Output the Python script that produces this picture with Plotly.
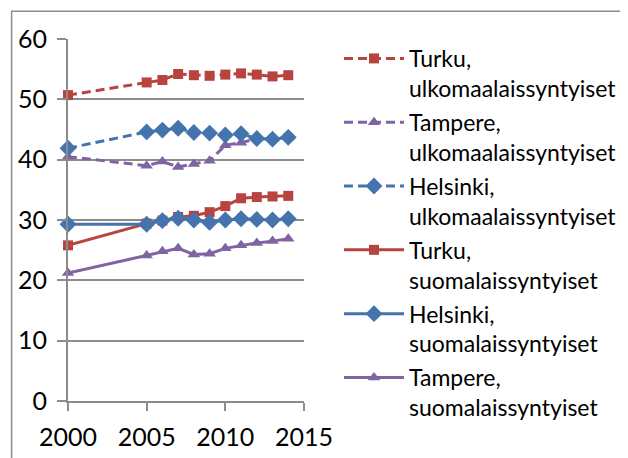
"""
Kaupunkien osuudet syntyperän mukaan (Turku, Tampere, Helsinki), 2000-2014.
"""
import plotly.graph_objects as go

years = [2000, 2005, 2006, 2007, 2008, 2009, 2010, 2011, 2012, 2013, 2014]

turku_ulko = [50.7, 52.8, 53.2, 54.2, 54.0, 53.9, 54.1, 54.3, 54.1, 53.8, 54.0]
tampere_ulko = [40.5, 39.0, 39.7, 38.8, 39.3, 39.8, 42.4, 42.8, 43.5, 43.7, 43.8]
helsinki_ulko = [41.9, 44.6, 44.9, 45.2, 44.5, 44.4, 44.1, 44.3, 43.5, 43.4, 43.7]
turku_suomi = [25.8, 29.4, 29.9, 30.5, 30.7, 31.3, 32.3, 33.6, 33.8, 33.9, 34.0]
helsinki_suomi = [29.3, 29.3, 29.9, 30.3, 30.0, 29.6, 30.0, 30.2, 30.1, 30.0, 30.2]
tampere_suomi = [21.2, 24.1, 24.8, 25.3, 24.3, 24.4, 25.3, 25.8, 26.2, 26.5, 26.9]

x_ticks = [2000, 2005, 2010, 2015]

red = "#B8443F"
blue = "#4473AE"
purple = "#8064A2"
grid = "#8C8C8C"
font_family = "Lato, Roboto, sans-serif"

series = [
    ("Turku,<br>ulkomaalaissyntyiset", turku_ulko, red, "square", 10, "9px,5px"),
    ("Tampere,<br>ulkomaalaissyntyiset", tampere_ulko, purple, "triangle-up", 11, "9px,5px"),
    ("Helsinki,<br>ulkomaalaissyntyiset", helsinki_ulko, blue, "diamond", 13, "9px,5px"),
    ("Turku,<br>suomalaissyntyiset", turku_suomi, red, "square", 10, "solid"),
    ("Helsinki,<br>suomalaissyntyiset", helsinki_suomi, blue, "diamond", 13, "solid"),
    ("Tampere,<br>suomalaissyntyiset", tampere_suomi, purple, "triangle-up", 11, "solid"),
]

fig = go.Figure()
for name, vals, color, symbol, size, dash in series:
    fig.add_trace(go.Scatter(
        x=years,
        y=vals,
        mode="lines+markers",
        name=name,
        legendgroup=name,
        line=dict(color=color, width=3, dash=dash),
        marker=dict(symbol=symbol, size=size, color=color),
        cliponaxis=False,
    ))

# sivun oletusmarginaali (8 px) siirtää kuvaa, joten koko ja marginaalit on kompensoitu
fig.update_layout(
    width=620,
    height=450,
    margin=dict(l=60, r=324, t=31, b=57, autoexpand=False),
    plot_bgcolor="white",
    paper_bgcolor="white",
    font=dict(family=font_family, size=24, color="black"),
    showlegend=True,
    legend=dict(
        xref="container", yref="container",
        x=331 / 620, y=0.9356, xanchor="left", yanchor="top",
        valign="top",
        font=dict(size=23, family=font_family),
        tracegroupgap=1,
        itemwidth=60,
        maxheight=440,
        bgcolor="rgba(0,0,0,0)",
    ),
    xaxis=dict(
        range=[2000, 2015],
        tickvals=x_ticks,
        automargin=False,
        showgrid=False,
        zeroline=False,
        showline=True,
        linecolor=grid,
        linewidth=2,
        ticks="outside",
        ticklen=8,
        tickwidth=2,
        tickcolor=grid,
        ticklabelstandoff=5,
        tickfont=dict(size=25),
    ),
    yaxis=dict(
        range=[0, 60],
        dtick=10,
        automargin=False,
        showgrid=True,
        gridcolor=grid,
        gridwidth=2,
        zeroline=False,
        showline=True,
        linecolor=grid,
        linewidth=2,
        ticks="outside",
        ticklen=9,
        tickwidth=2,
        tickcolor=grid,
        ticklabelstandoff=5,
        tickfont=dict(size=25),
    ),
    shapes=[dict(
        type="rect", xref="paper", yref="paper",
        x0=-0.239, x1=2.5, y0=-0.3, y1=1.077,
        line=dict(color=grid, width=1.5),
        fillcolor="rgba(0,0,0,0)",
        layer="below",
    )],
)

fig.write_html("out.html")
